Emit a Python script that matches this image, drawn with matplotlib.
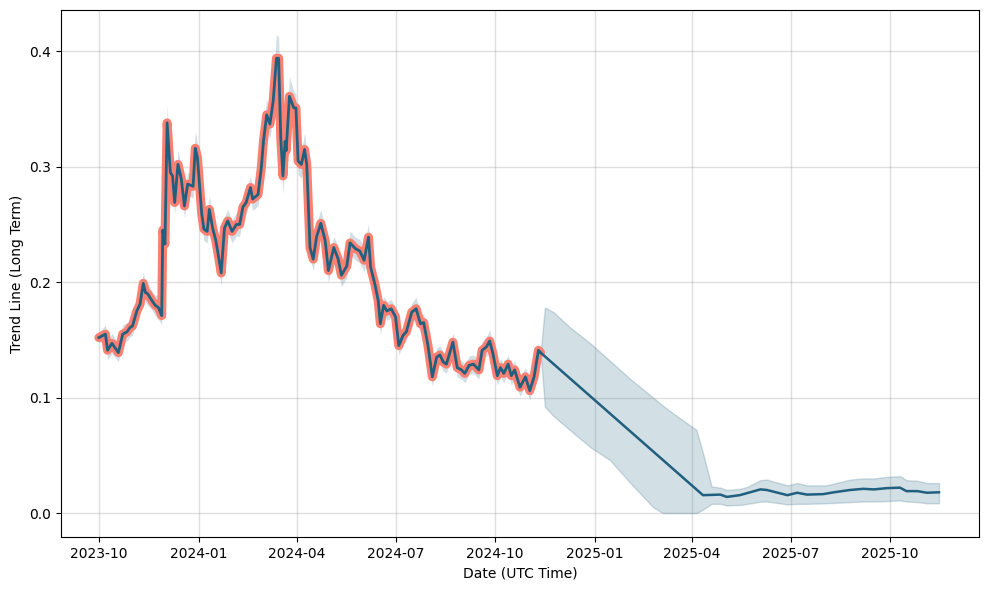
import numpy as np
import pandas as pd
import matplotlib
matplotlib.use("Agg")
import matplotlib.pyplot as plt
import matplotlib.dates as mdates

START = "2023-10-01"
X_RANGE = ("2023-08-27", "2025-12-22")

# Historical trend line (days since START, value)
hist_day = [0, 6, 8, 12, 15, 18, 22, 26, 29, 31, 35, 38, 41, 43, 45, 49, 52, 55, 58, 59,
            61, 63, 66, 68, 70, 73, 76, 79, 82, 87, 89, 91, 95, 97, 100, 102, 105, 108, 110, 113,
            116, 119, 123, 127, 130, 133, 136, 140, 142, 147, 150, 152, 155, 158, 161, 164, 166, 168, 170, 172,
            173, 176, 180, 182, 184, 187, 190, 192, 195, 198, 201, 205, 209, 212, 217, 221, 224, 229, 232, 237,
            241, 245, 249, 251, 255, 258, 260, 263, 266, 270, 274, 277, 281, 284, 289, 293, 297, 300, 304, 308,
            312, 315, 318, 321, 327, 331, 335, 338, 342, 346, 351, 354, 358, 361, 364, 368, 371, 374, 378, 381,
            384, 389, 394, 398, 402, 406, 408]
hist_val = [0.152, 0.155, 0.141, 0.147, 0.143, 0.139, 0.155, 0.157, 0.161, 0.162, 0.175, 0.181, 0.199, 0.191, 0.190, 0.184, 0.180, 0.178, 0.171, 0.245,
            0.233, 0.338, 0.295, 0.292, 0.269, 0.302, 0.290, 0.266, 0.285, 0.283, 0.316, 0.308, 0.259, 0.246, 0.244, 0.263, 0.247, 0.236, 0.225, 0.208,
            0.247, 0.253, 0.244, 0.250, 0.250, 0.265, 0.269, 0.282, 0.272, 0.276, 0.299, 0.322, 0.345, 0.337, 0.357, 0.394, 0.394, 0.325, 0.292, 0.322,
            0.314, 0.361, 0.351, 0.351, 0.305, 0.302, 0.315, 0.302, 0.230, 0.220, 0.239, 0.251, 0.236, 0.210, 0.230, 0.220, 0.206, 0.214, 0.234, 0.229,
            0.227, 0.219, 0.239, 0.213, 0.198, 0.184, 0.164, 0.180, 0.175, 0.177, 0.170, 0.145, 0.154, 0.157, 0.174, 0.177, 0.164, 0.165, 0.145, 0.118,
            0.135, 0.137, 0.131, 0.129, 0.148, 0.126, 0.124, 0.121, 0.128, 0.129, 0.124, 0.141, 0.144, 0.149, 0.138, 0.119, 0.126, 0.121, 0.129, 0.119,
            0.124, 0.109, 0.118, 0.106, 0.118, 0.141, 0.139]
# Half-width of the historical uncertainty band at each point
hist_spread = [0.004, 0.008, 0.008, 0.009, 0.008, 0.008, 0.008, 0.008, 0.008, 0.008, 0.008, 0.008, 0.010, 0.008, 0.010, 0.008, 0.009, 0.010, 0.008, 0.010,
               0.010, 0.015, 0.010, 0.014, 0.010, 0.012, 0.010, 0.010, 0.010, 0.010, 0.015, 0.012, 0.010, 0.010, 0.010, 0.012, 0.010, 0.010, 0.010, 0.011,
               0.010, 0.010, 0.010, 0.010, 0.010, 0.010, 0.010, 0.010, 0.010, 0.010, 0.012, 0.012, 0.014, 0.012, 0.014, 0.021, 0.018, 0.014, 0.016, 0.012,
               0.012, 0.017, 0.014, 0.012, 0.012, 0.012, 0.014, 0.012, 0.010, 0.010, 0.012, 0.012, 0.010, 0.010, 0.010, 0.010, 0.010, 0.010, 0.010, 0.010,
               0.010, 0.010, 0.012, 0.010, 0.008, 0.008, 0.010, 0.008, 0.008, 0.008, 0.008, 0.008, 0.008, 0.008, 0.008, 0.010, 0.008, 0.008, 0.008, 0.008,
               0.008, 0.008, 0.008, 0.008, 0.008, 0.008, 0.008, 0.008, 0.008, 0.008, 0.008, 0.008, 0.008, 0.010, 0.008, 0.008, 0.008, 0.008, 0.008, 0.008,
               0.008, 0.008, 0.008, 0.008, 0.008, 0.004, 0.002]

# Forecast trend line
fc_day = [408, 558, 574, 580, 592, 611, 617, 636, 645, 654, 669, 679, 694, 706, 716, 728, 740, 746, 756, 765, 776]
fc_val = [0.139, 0.0155, 0.016, 0.014, 0.0155, 0.0205, 0.020, 0.0155, 0.0176, 0.016, 0.0164, 0.018, 0.020, 0.021, 0.0205, 0.0216, 0.022, 0.019, 0.019, 0.0176, 0.018]

# Forecast uncertainty band
band_day = [408, 412, 420, 435, 454, 472, 491, 512, 521, 531, 552, 558, 566, 574, 580, 592, 599, 611, 617, 636, 645, 654, 672, 694, 706, 716, 728, 740, 746, 756, 765, 776]
band_hi = [0.139, 0.178, 0.174, 0.161, 0.147, 0.132, 0.116, 0.100, 0.093, 0.086, 0.072, 0.052, 0.023, 0.022, 0.020, 0.021, 0.0227, 0.0285, 0.029, 0.024, 0.026, 0.024, 0.024, 0.029, 0.030, 0.030, 0.0314, 0.032, 0.0285, 0.028, 0.026, 0.026]
band_lo = [0.139, 0.092, 0.084, 0.072, 0.057, 0.046, 0.026, 0.005, 0.0, 0.0, 0.0, 0.003, 0.008, 0.008, 0.0066, 0.007, 0.008, 0.0098, 0.010, 0.0075, 0.008, 0.008, 0.0085, 0.0095, 0.010, 0.010, 0.0104, 0.011, 0.010, 0.0095, 0.0085, 0.0085]

start = pd.Timestamp(START)
hd = start + pd.to_timedelta(hist_day, unit="D")
fd = start + pd.to_timedelta(fc_day, unit="D")
bd = start + pd.to_timedelta(band_day, unit="D")
hv = np.array(hist_val)
hs = np.array(hist_spread)

blue = "#215f7f"
fig, ax = plt.subplots(figsize=(9.89, 5.9), dpi=100)
fig.subplots_adjust(left=0.0617, right=0.9899, top=0.983, bottom=0.0898)
ax.fill_between(hd, hv - hs, hv + hs, color=blue, alpha=0.2, linewidth=0)
ax.fill_between(bd, band_lo, band_hi, color=blue, alpha=0.2, linewidth=1)
ax.plot(hd, hv, color="#fa8072", linewidth=6.5, solid_capstyle="round", solid_joinstyle="round")
ax.plot(hd, hv, color=blue, linewidth=2)
ax.plot(fd, fc_val, color=blue, linewidth=1.8)

ax.set_xlim(pd.Timestamp(X_RANGE[0]), pd.Timestamp(X_RANGE[1]))
ax.xaxis.set_major_locator(mdates.MonthLocator(bymonth=[1, 4, 7, 10]))
ax.xaxis.set_major_formatter(mdates.DateFormatter("%Y-%m"))
ax.grid(True, color="gray", alpha=0.25, linewidth=1)
ax.set_xlabel("Date (UTC Time)")
ax.set_ylabel("Trend Line (Long Term)")
fig.savefig("out.png", dpi=100)
